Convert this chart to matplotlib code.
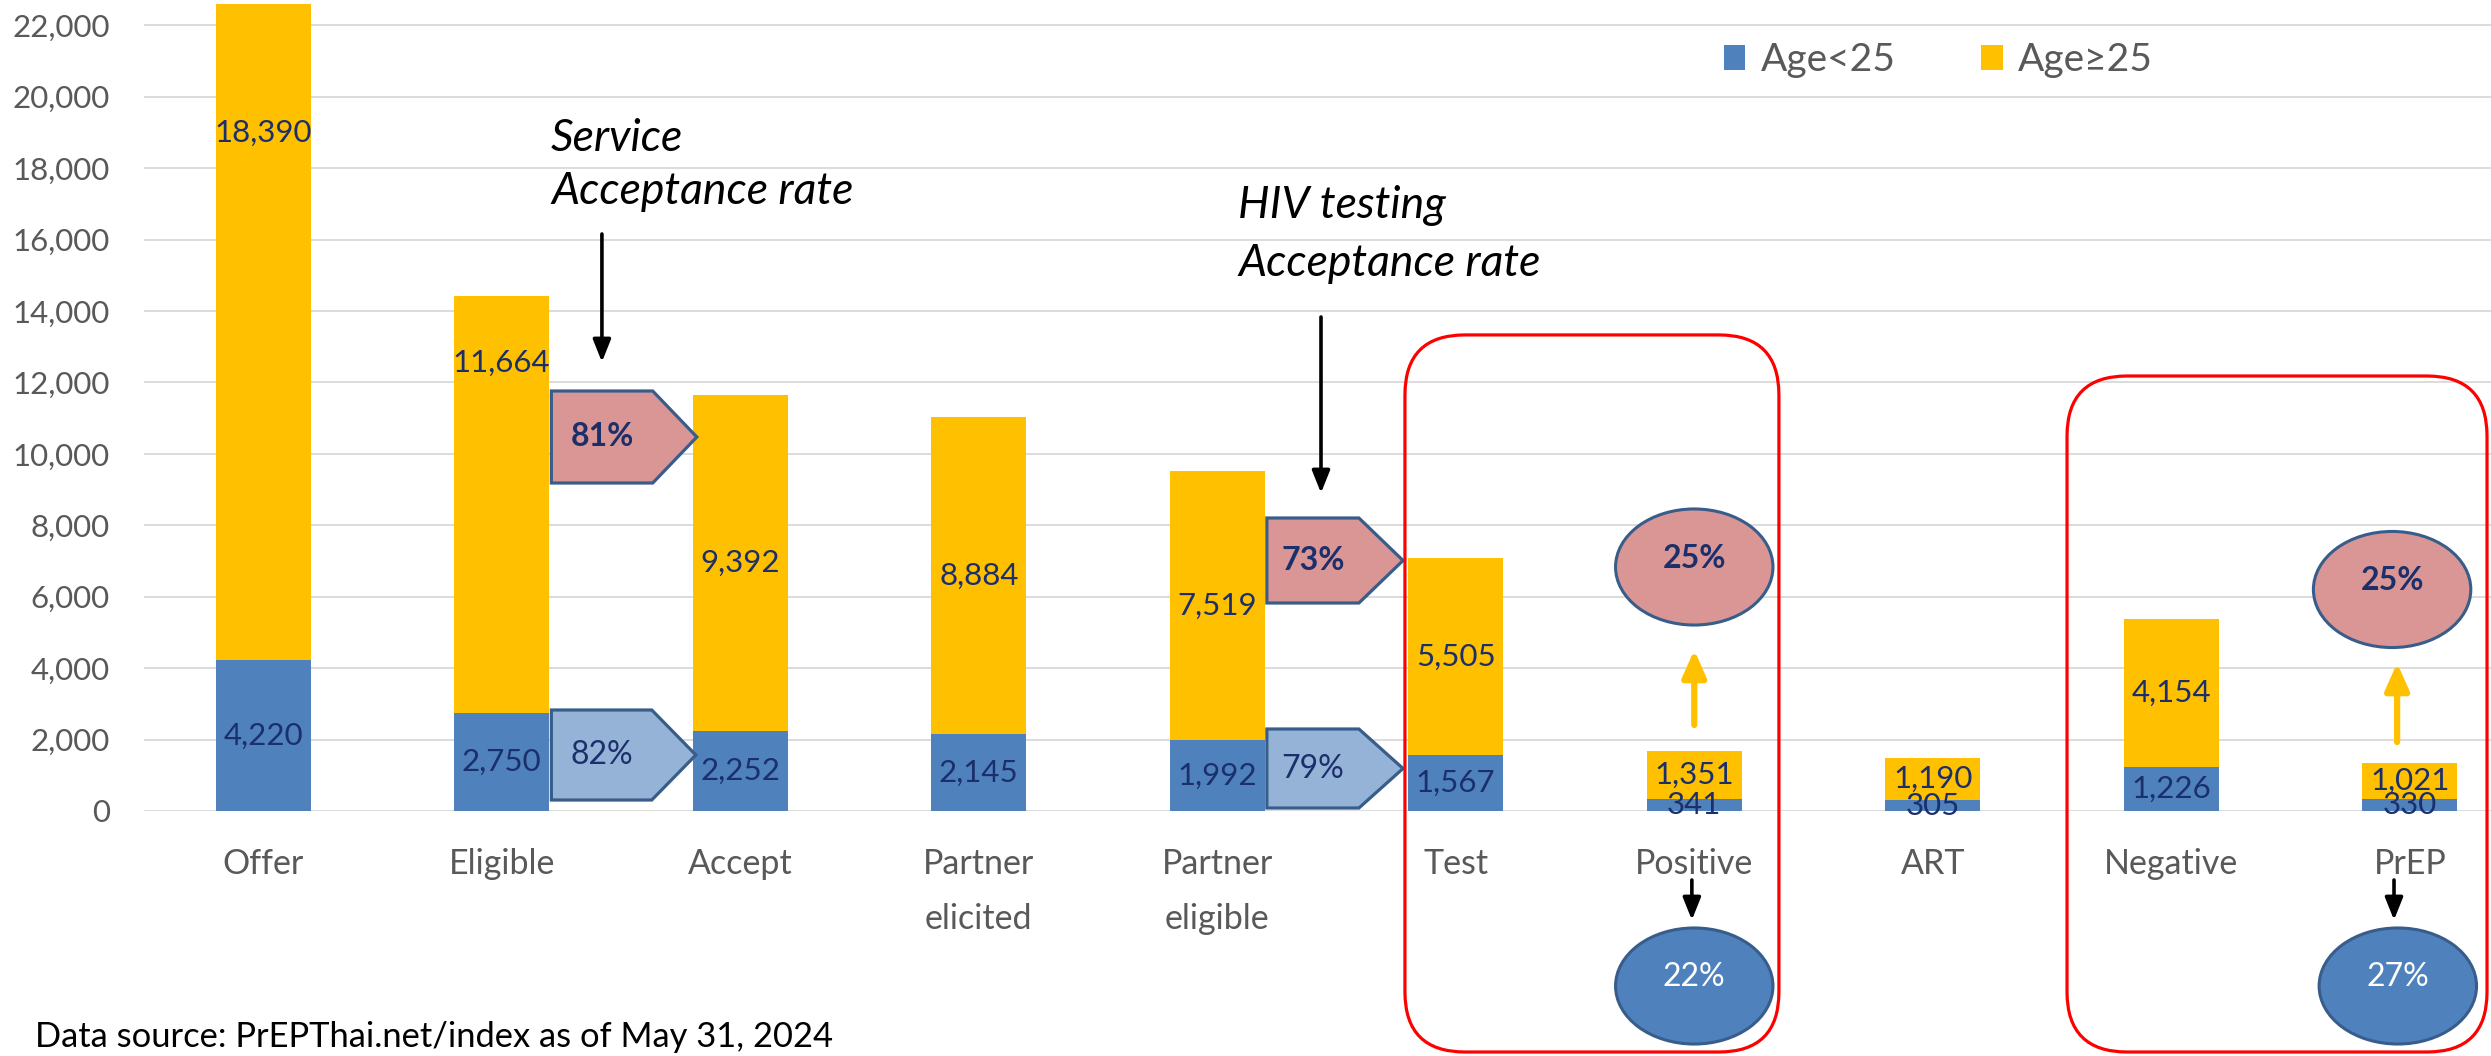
import matplotlib
matplotlib.use("Agg")
import matplotlib.pyplot as plt
from matplotlib.patches import Polygon, Ellipse, FancyBboxPatch
import numpy as np

# data
categories = ["Offer", "Eligible", "Accept", "Partner\nelicited", "Partner\neligible",
              "Test", "Positive", "ART", "Negative", "PrEP"]
age_under25 = [4220, 2750, 2252, 2145, 1992, 1567, 341, 305, 1226, 330]
age_25plus = [18390, 11664, 9392, 8884, 7519, 5505, 1351, 1190, 4154, 1021]
y_ticks = list(range(0, 22001, 2000))

BLUE = "#4F81BD"
YELLOW = "#FFC000"
NAVY = "#1B2F6B"
GREY = "#595959"
OUTLINE = "#385D8A"
PINK = "#D99694"
LIGHT_BLUE = "#95B3D7"

plt.rcParams["font.family"] = ["Lato", "DejaVu Sans"]

W, H = 2491, 1056
fig = plt.figure(figsize=(W / 100, H / 100), dpi=100)
# 0 sits at 811 px from top, 28 units per pixel, 238.5 px per category
ax = fig.add_axes([144 / W, (H - 811) / H, 2385 / W, 23000 / 28 / H])
ax.set_xlim(-0.5, 9.5)
ax.set_ylim(0, 23000)
Y_ASPECT = 28 * 238.5  # y units per x unit at equal pixel length

x = np.arange(len(categories))
bw = 0.4
ax.bar(x, age_under25, bw, color=BLUE, label="Age<25", zorder=2)
ax.bar(x, age_25plus, bw, bottom=age_under25, color=YELLOW, label="Age\u226525", zorder=2)

# data labels (two of them were moved by hand in the original)
moved_labels = {0: 19000, 1: 12550}
for i in x:
    lo, hi = age_under25[i], age_25plus[i]
    ax.text(i, lo / 2, f"{lo:,}", ha="center", va="center", fontsize=22.5,
            color=NAVY, zorder=6)
    ax.text(i, moved_labels.get(i, lo + hi / 2), f"{hi:,}", ha="center", va="center",
            fontsize=22.5, color=NAVY, zorder=6)

# axes styling
for s in ax.spines.values():
    s.set_visible(False)
ax.set_yticks(y_ticks)
ax.set_yticklabels([f"{v:,}" for v in y_ticks])
ax.yaxis.grid(True, color="#D9D9D9", lw=1.3)
ax.set_axisbelow(True)
ax.tick_params(axis="y", length=0, pad=24.5, labelsize=22.5, labelcolor=GREY)
ax.set_xticks(x)
ax.set_xticklabels(categories, linespacing=1.85)
ax.tick_params(axis="x", length=0, pad=27, labelsize=24.5, labelcolor=GREY)


# conversion rate arrows between bars
def home_plate(x0, x1, y0, y1, tip):
    ym = (y0 + y1) / 2
    return [(x0, y0), (x1 - tip, y0), (x1, ym), (x1 - tip, y1), (x0, y1)]


rate_arrows = [  # (bar index, series, bottom, top, tip shift, bold, fill)
    (1, age_25plus, 9184, 11760, 0.018, True, PINK),
    (1, age_under25, 308, 2828, 0.014, False, LIGHT_BLUE),
    (4, age_25plus, 5824, 8204, -0.021, True, PINK),
    (4, age_under25, 84, 2296, -0.021, False, LIGHT_BLUE),
]
for i, series, yb, yt, dx, bold, fill in rate_arrows:
    x0 = i + bw / 2 + 0.008
    x1 = i + 1 - bw / 2 + dx
    tip = 0.185
    ax.add_patch(Polygon(home_plate(x0, x1, yb, yt, tip), closed=True, fc=fill,
                         ec=OUTLINE, lw=2.3, zorder=4, joinstyle="miter"))
    pct = round(series[i + 1] / series[i] * 100)
    ax.text((x0 + x1 - tip) / 2, (yb + yt) / 2, f"{pct}%", ha="center", va="center",
            fontsize=23, color=NAVY, fontweight="bold" if bold else "normal", zorder=6)

# positive / PrEP bubbles
bubbles = [  # (x, y, from index, to index, series, fill, text colour, bold)
    (6.0, 6832, 5, 6, age_25plus, PINK, NAVY, True),
    (6.0, -4900, 5, 6, age_under25, BLUE, "white", False),
    (8.926, 6202, 8, 9, age_25plus, PINK, NAVY, True),
    (8.95, -4900, 8, 9, age_under25, BLUE, "white", False),
]
for bx, by, a, b, series, fill, tc, bold in bubbles:
    ax.add_patch(Ellipse((bx, by), 0.66, 3250, fc=fill, ec=OUTLINE, lw=2.2,
                         zorder=4, clip_on=False))
    pct = round(series[b] / series[a] * 100)
    ax.text(bx, by + 250, f"{pct}%", ha="center", va="center", fontsize=23,
            color=tc, fontweight="bold" if bold else "normal", zorder=6,
            clip_on=False)

# yellow arrows up to the pink bubbles
for ax_x, y0, y1 in [(6.0, 2408, 4508), (8.947, 1932, 4144)]:
    ax.annotate("", xy=(ax_x, y1), xytext=(ax_x, y0), annotation_clip=False,
                arrowprops=dict(arrowstyle="-|>,head_width=0.4,head_length=0.9",
                                mutation_scale=18, color=YELLOW, lw=4.5,
                                shrinkA=0, shrinkB=0), zorder=5)

# black arrows down to the blue bubbles and from the captions
for ax_x, y0, y1 in [(5.99, -1932, -3052), (8.934, -1932, -3052),
                     (1.42, 16156, 12572), (4.435, 13832, 8904)]:
    ax.annotate("", xy=(ax_x, y1), xytext=(ax_x, y0), annotation_clip=False,
                arrowprops=dict(arrowstyle="-|>,head_width=0.3,head_length=0.75",
                                mutation_scale=18, color="black", lw=2.6,
                                shrinkA=0, shrinkB=0), zorder=5)

# captions
for cx, lines in [(1.2065, [(18474, "Service"), (16996, "Acceptance rate")]),
                  (4.087, [(16604, "HIV testing"), (14980, "Acceptance rate")])]:
    for cy, s in lines:
        ax.text(cx, cy, s, ha="left", va="baseline", fontsize=32, style="italic",
                color="black", zorder=6)

# red rounded frames
r = 60 / 238.5
for x0, x1, y0, y1 in [(4.787, 6.355, -6748, 13330), (7.563, 9.324, -6748, 12180)]:
    ax.add_patch(FancyBboxPatch((x0, y0), x1 - x0, y1 - y0,
                                boxstyle=f"round,pad=0,rounding_size={r}",
                                mutation_aspect=Y_ASPECT, fill=False, ec="#FF0000",
                                lw=2.3, zorder=5, clip_on=False))

ax.legend(loc="center left", bbox_to_anchor=(1724 / W, 1 - 60 / H),
          bbox_transform=fig.transFigure, ncol=2, frameon=False, fontsize=28,
          handlelength=0.55, handleheight=0.62, handletextpad=0.4,
          columnspacing=2.2, borderpad=0, borderaxespad=0, labelcolor=GREY)

fig.text(35 / W, 9 / H, "Data source: PrEPThai.net/index as of May 31, 2024",
         ha="left", va="baseline", fontsize=24.8, color="black")

fig.savefig("out.png", dpi=100)
